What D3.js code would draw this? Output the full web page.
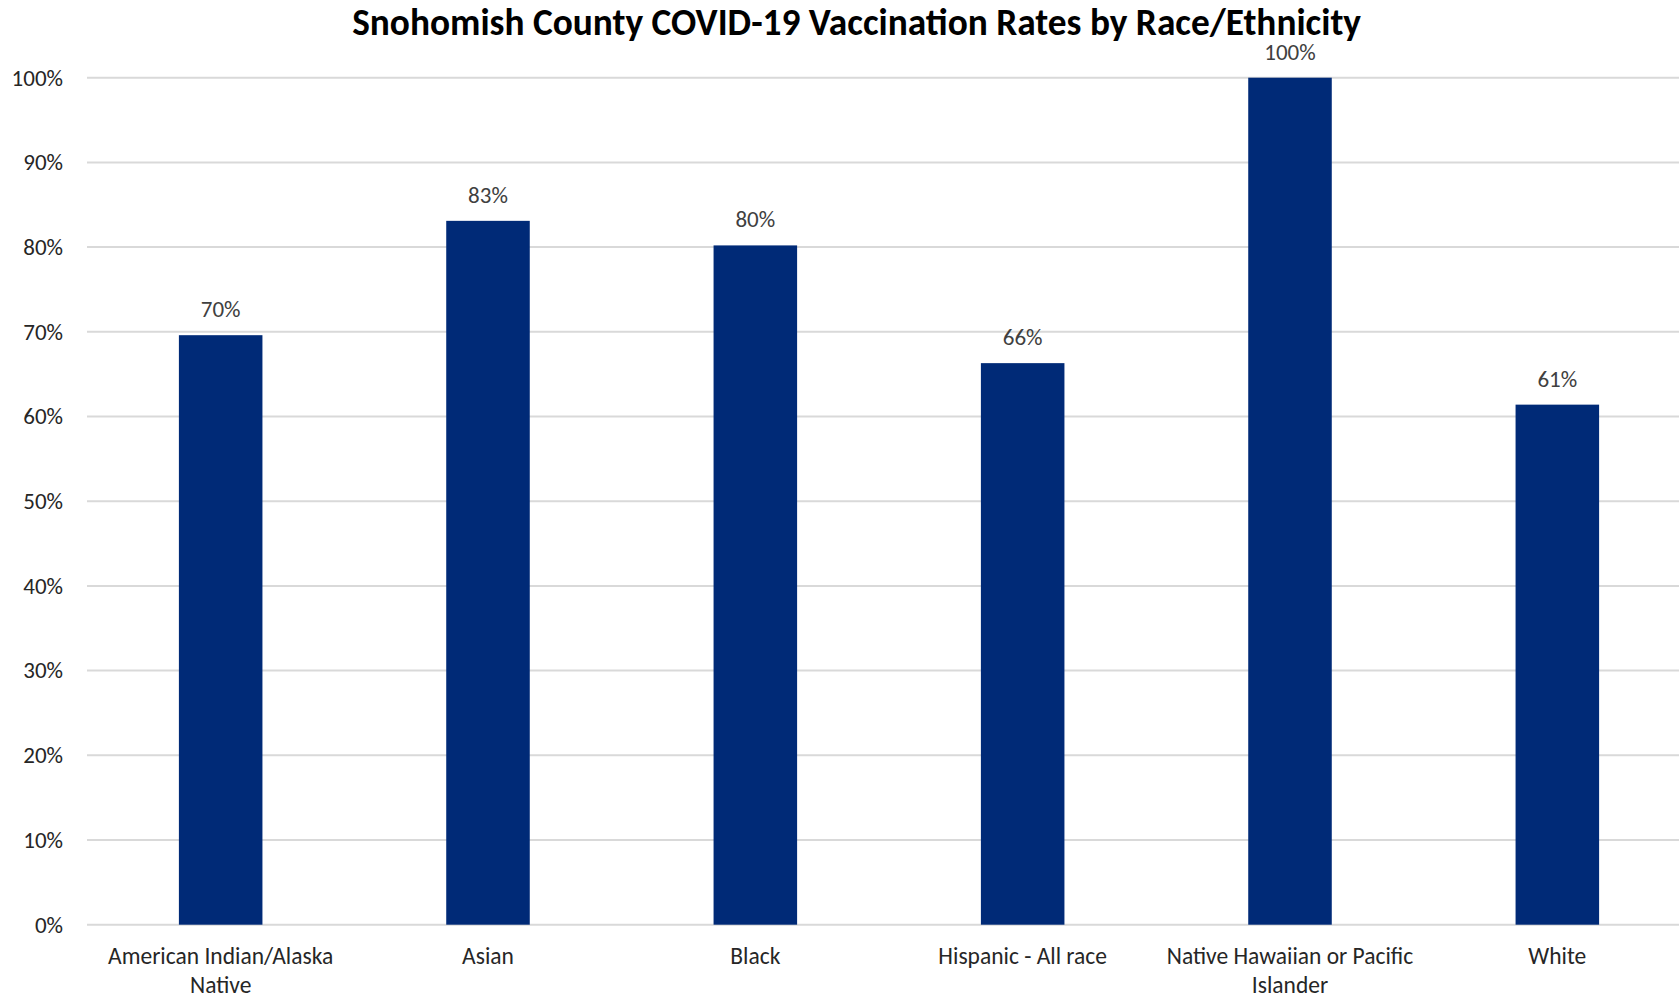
<!DOCTYPE html>
<html>
<head>
<meta charset="utf-8">
<script src="https://cdn.jsdelivr.net/npm/d3@7"></script>
<style>
  body { margin: 0; background: #fff; }
  svg { display: block; font-family: Carlito, Calibri, Lato, "Open Sans", sans-serif; }
</style>
</head>
<body>
<div id="chart"></div>
<script>
// Snohomish County vaccination rates by race/ethnicity
var categories = [
    ["American Indian/Alaska", "Native"],
    ["Asian"],
    ["Black"],
    ["Hispanic - All race"],
    ["Native Hawaiian or Pacific", "Islander"],
    ["White"]
];
var rates = [0.696, 0.831, 0.802, 0.663, 1.0, 0.614];
var rateLabels = ["70%", "83%", "80%", "66%", "100%", "61%"];
var yTicks = [0, 0.1, 0.2, 0.3, 0.4, 0.5, 0.6, 0.7, 0.8, 0.9, 1.0];
var title = "Snohomish County COVID-19 Vaccination Rates by Race/Ethnicity";

var width = 1679, height = 999;
var plotLeft = 87, plotRight = 1691, plotTop = 77.7, plotBottom = 924.7;

var svg = d3.select("#chart")
    .append("svg")
    .attr("width", width)
    .attr("height", height);

var x = d3.scaleBand()
    .domain(d3.range(categories.length))
    .range([plotLeft, plotRight])
    .paddingInner(0.6875)
    .paddingOuter(0.34375);

var y = d3.scaleLinear()
    .domain([0, 1])
    .range([plotBottom, plotTop]);

// gridlines
svg.append("g")
    .attr("class", "grid")
    .selectAll("line")
    .data(yTicks).enter()
    .append("line")
    .attr("x1", plotLeft)
    .attr("x2", plotRight)
    .attr("y1", function(d) { return y(d); })
    .attr("y2", function(d) { return y(d); })
    .attr("stroke", "#d9d9d9")
    .attr("stroke-width", 2);

// y axis labels
var yAxis = d3.axisLeft(y)
    .tickValues(yTicks)
    .tickFormat(d3.format(".0%"))
    .tickSize(0)
    .tickPadding(24);

var yg = svg.append("g")
    .attr("transform", "translate(" + plotLeft + ",0)")
    .call(yAxis);
yg.select(".domain").remove();
yg.selectAll("text")
    .attr("fill", "#262626")
    .style("font-size", "23px")
    .style("font-family", "Carlito, Calibri, Lato, sans-serif");

// bars
svg.append("g")
    .selectAll("rect")
    .data(rates).enter()
    .append("rect")
    .attr("x", function(d, i) { return x(i); })
    .attr("width", x.bandwidth())
    .attr("y", function(d) { return y(d); })
    .attr("height", function(d) { return y(0) - y(d); })
    .attr("fill", "#002a77");

// value labels
svg.append("g")
    .selectAll("text")
    .data(rates).enter()
    .append("text")
    .attr("x", function(d, i) { return x(i) + x.bandwidth() / 2; })
    .attr("y", function(d) { return y(d) - 18; })
    .attr("text-anchor", "middle")
    .attr("fill", "#404040")
    .style("font-size", "23px")
    .text(function(d, i) { return rateLabels[i]; });

// category labels
var xl = svg.append("g")
    .selectAll("text")
    .data(categories).enter()
    .append("text")
    .attr("x", function(d, i) { return x(i) + x.bandwidth() / 2; })
    .attr("y", 964)
    .attr("text-anchor", "middle")
    .attr("fill", "#262626")
    .style("font-size", "23.5px");

xl.selectAll("tspan")
    .data(function(d) { return d; }).enter()
    .append("tspan")
    .attr("x", function() { return d3.select(this.parentNode).attr("x"); })
    .attr("dy", function(d, i) { return i ? 29 : 0; })
    .text(function(d) { return d; });

// title
var t = svg.append("text")
    .attr("x", 856.6)
    .attr("y", 35)
    .attr("text-anchor", "middle")
    .attr("fill", "#000")
    .style("font-size", "32px")
    .style("font-weight", "bold")
    .text(title);
var tw = t.node().getComputedTextLength();
t.style("font-size", (32 * 1009 / tw) + "px");
</script>
</body>
</html>
